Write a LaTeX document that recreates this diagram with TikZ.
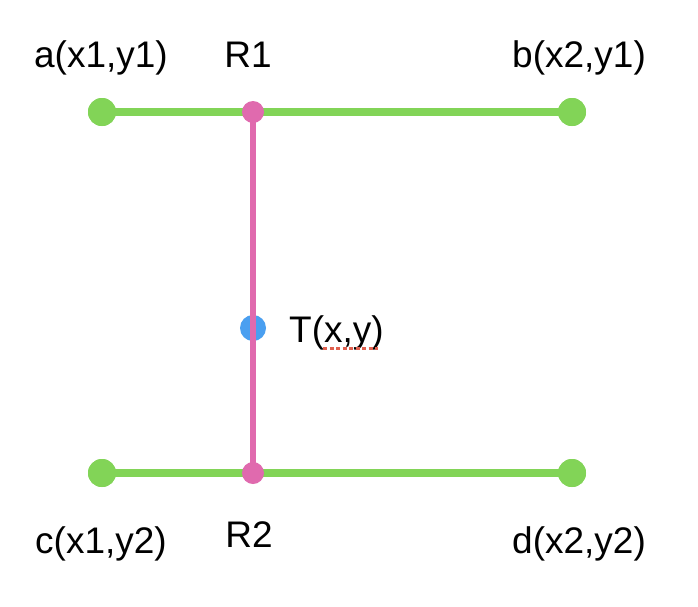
\documentclass[tikz,border=0pt]{standalone}
\usepackage{fontspec}
\setmainfont{Liberation Sans}
\begin{document}
\begin{tikzpicture}[x=1pt,y=-1pt,
  lbl/.style={anchor=base,inner sep=0pt,font=\fontsize{37}{44}\selectfont},
  gdot/.style={circle,fill=dotgreen,minimum size=28pt,inner sep=0pt},
  pdot/.style={circle,fill=linepink,minimum size=22pt,inner sep=0pt},
  bdot/.style={circle,fill=dotblue,minimum size=26pt,inner sep=0pt},
  gline/.style={draw=dotgreen,line width=8pt},
  pline/.style={draw=linepink,line width=6pt}]
\definecolor{dotgreen}{HTML}{82D457}
\definecolor{linepink}{HTML}{E06AAE}
\definecolor{dotblue}{HTML}{4A9FF0}
\definecolor{squig}{HTML}{E0604F}
\useasboundingbox (0,0) rectangle (698,606);
\fill[white] (0,0) rectangle (698,606);
% points
\node[bdot] (T) at (253,328) {};
\node[gdot] (a) at (102,112) {};
\node[gdot] (b) at (572,112) {};
\node[gdot] (c) at (102,473) {};
\node[gdot] (d) at (572,473) {};
\coordinate (R1c) at (253,112);
\coordinate (R2c) at (253,473);
\draw[gline] (a.center) -- (b.center);
\draw[gline] (c.center) -- (d.center);
\draw[pline] (R1c) -- (R2c);
\node[pdot] (R1) at (R1c) {};
\node[pdot] (R2) at (R2c) {};
\node[gdot] at (a.center) {};
\node[gdot] at (b.center) {};
\node[gdot] at (c.center) {};
\node[gdot] at (d.center) {};
% labels
\node[lbl] (la) at (101,67) {a(x1,y1)};
\node[lbl] (lr1) at (248,67) {R1};
\node[lbl] (lb) at (579,67) {b(x2,y1)};
\node[lbl] (lc) at (101,553) {c(x1,y2)};
\node[lbl] (lr2) at (249,547) {R2};
\node[lbl] (ld) at (579,553) {d(x2,y2)};
\node[lbl,anchor=base west] (lt) at (289,342) {T(x,y)};
\coordinate (sq1) at (323,348);
\coordinate (sq2) at (378,348);
\draw[squig,line width=3pt,dash pattern=on 4pt off 2.5pt] (sq1) -- (sq2);
\end{tikzpicture}
\end{document}
